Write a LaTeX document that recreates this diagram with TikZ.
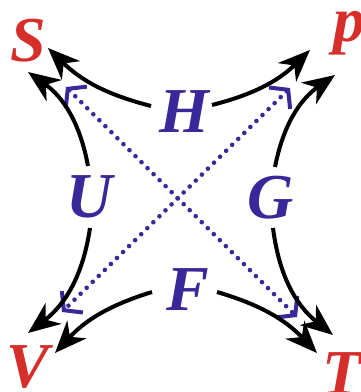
\documentclass[tikz,border=0pt]{standalone}
\usepackage{fontspec}
\setmainfont{Liberation Serif}
\usetikzlibrary{arrows.meta,calc}
\definecolor{varred}{HTML}{D62E2A}
\definecolor{potblue}{HTML}{38289A}
\tikzset{
  statevar/.style={text=varred,inner sep=0pt,
                   font=\fontsize{64}{64}\selectfont\bfseries\itshape},
  potential/.style={text=potblue,inner sep=0pt,
                    font=\fontsize{64}{64}\selectfont\bfseries\itshape},
  relarr/.style={line width=4pt,-{Stealth[length=32pt,width=26pt,inset=10pt]}},
  diagarr/.style={line width=4.6pt,draw=potblue,line cap=round,dash pattern=on 0pt off 8.5pt,
                  {Straight Barb[length=12pt,width=30pt,line width=4pt]}-{Straight Barb[length=12pt,width=30pt,line width=4pt]}}
}

\begin{document}
\begin{tikzpicture}[x=1pt,y=1pt]
  \useasboundingbox (0,0) rectangle (361,-392);
  % corners
  \node[statevar] (S) at (28,-41) {S};
  \node[statevar] (p) at (350,-33) {p};
  \node[statevar] (V) at (28,-367) {V};
  \node[statevar] (T) at (342,-374) {T};
  % potentials
  \node[potential] (H) at (184,-112) {H};
  \node[potential] (U) at (90,-197) {U};
  \node[potential] (G) at (271,-198) {G};
  \node[potential] (F) at (188,-290) {F};
  % diagonals
  \draw[diagarr] ($(S)+(38,-46)$) -- ($(T)+(-45,57)$);
  \draw[diagarr] ($(p)+(-60,-55)$) -- ($(V)+(34,55)$);
  % derivative arrows
  \draw[relarr] ($(H)+(-33,6)$) to[bend left=15] ($(S)+(20,-7)$);
  \draw[relarr] ($(U)+(-2,31)$) to[bend right=22] ($(S)+(0,-31)$);
  \draw[relarr] ($(H)+(28,7)$) to[bend right=15] ($(p)+(-40,-17)$);
  \draw[relarr] ($(G)+(4,31)$) to[bend left=22] ($(p)+(-15,-42)$);
  \draw[relarr] ($(U)+(0,-31)$) to[bend left=22] ($(V)+(0,34)$);
  \draw[relarr] ($(F)+(-36,-2)$) to[bend right=15] ($(V)+(27,14)$);
  \draw[relarr] ($(G)+(2,-30)$) to[bend right=22] ($(T)+(-9,39)$);
  \draw[relarr] ($(F)+(29,-2)$) to[bend left=15] ($(T)+(-25,21)$);
\end{tikzpicture}
\end{document}
